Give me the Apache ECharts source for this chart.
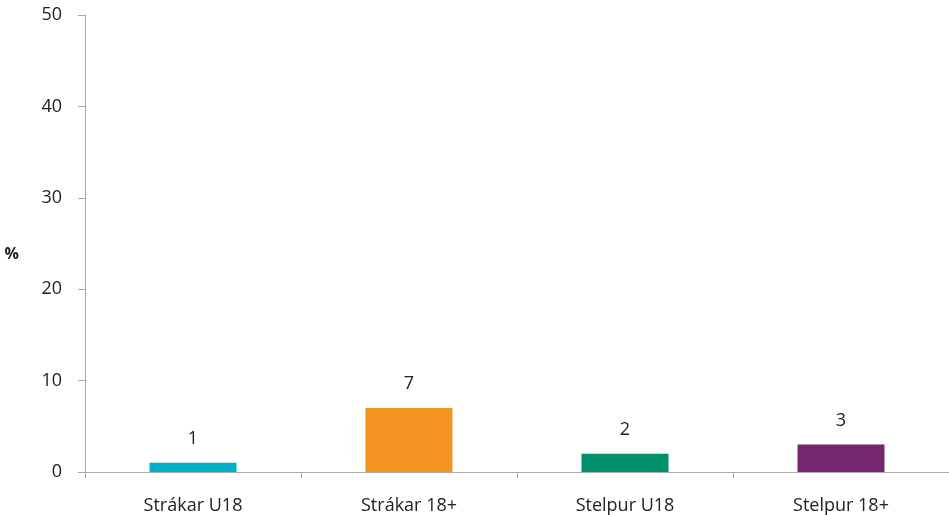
<!DOCTYPE html>
<html>
<head>
<meta charset="utf-8">
<script src="https://cdn.jsdelivr.net/npm/echarts@6/dist/echarts.min.js"></script>
<style>html,body{margin:0;padding:0;background:#fff}#c{width:949px;height:515px}</style>
</head>
<body>
<div id="c"></div>
<script>
const categories = ["Strákar U18", "Strákar 18+", "Stelpur U18", "Stelpur 18+"];
const values = [1, 7, 2, 3];
const colors = ["#00B0C8", "#F39321", "#00916A", "#74276E"];
const yTicks = [0, 10, 20, 30, 40, 50];

const chart = echarts.init(document.getElementById('c'), null, {renderer: 'canvas'});
const font = '"Open Sans", Roboto, sans-serif';
chart.setOption({
  animation: false,
  grid: {left: 85, right: -5, top: 15, bottom: 42, containLabel: false},
  xAxis: {
    type: 'category',
    data: categories,
    axisLine: {lineStyle: {color: '#aaaaaa', width: 1}},
    axisTick: {show: true, length: 6, lineStyle: {color: '#aaaaaa'}},
    axisLabel: {color: '#222', fontSize: 18, fontFamily: font, margin: 25}
  },
  yAxis: {
    type: 'value',
    min: yTicks[0], max: yTicks[yTicks.length - 1], interval: 10,
    name: '%',
    nameLocation: 'middle',
    nameRotate: 0,
    nameGap: 66,
    nameTextStyle: {color: '#222', fontSize: 16, fontWeight: 'bold', fontFamily: font, verticalAlign: 'top', padding: [3, 0, 0, 0]},
    axisLine: {show: true, lineStyle: {color: '#aaaaaa', width: 1}},
    axisTick: {show: true, length: 7, lineStyle: {color: '#aaaaaa'}},
    splitLine: {show: false},
    axisLabel: {color: '#222', fontSize: 18, fontFamily: font, margin: 23}
  },
  series: [{
    type: 'bar',
    data: values.map((v, i) => ({value: v, itemStyle: {color: colors[i]}})),
    barWidth: 87,
    label: {show: true, position: 'top', distance: 15, color: '#222', fontSize: 18, fontFamily: font}
  }]
});
</script>
</body>
</html>
